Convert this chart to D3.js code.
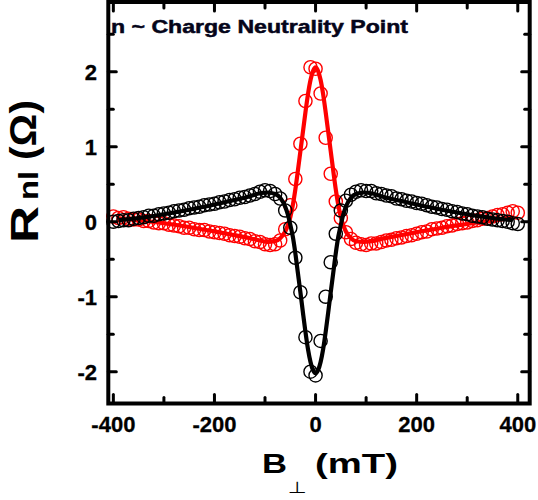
<!DOCTYPE html>
<html><head><meta charset="utf-8">
<script src="https://cdn.jsdelivr.net/npm/d3@7"></script>
<style>body{margin:0;background:#fff}svg{display:block}</style>
</head><body>
<script>
// ---- data ----
const field = [-400,-390,-380,-370,-360,-350,-340,-330,-320,-310,-300,-290,-280,-270,-260,-250,-240,-230,-220,-210,-200,-190,-180,-170,-160,-150,-140,-130,-120,-110,-100,-90,-80,-70,-60,-50,-40,-30,-20,-10,0,10,20,30,40,50,60,70,80,90,100,110,120,130,140,150,160,170,180,190,200,210,220,230,240,250,260,270,280,290,300,310,320,330,340,350,360,370,380,390,400];
const redR = [0.07,0.05,0.06,0.04,0.03,0.03,0.01,0.01,-0.01,-0.02,-0.02,-0.04,-0.05,-0.06,-0.08,-0.08,-0.10,-0.11,-0.11,-0.13,-0.14,-0.15,-0.16,-0.18,-0.19,-0.20,-0.22,-0.23,-0.26,-0.27,-0.30,-0.31,-0.30,-0.25,-0.10,0.22,0.57,1.04,1.61,2.06,2.04,1.71,1.12,0.64,0.27,0.05,-0.14,-0.23,-0.28,-0.30,-0.31,-0.29,-0.29,-0.27,-0.25,-0.24,-0.22,-0.21,-0.19,-0.18,-0.16,-0.14,-0.13,-0.10,-0.09,-0.08,-0.06,-0.05,-0.03,-0.02,-0.01,0.01,0.02,0.04,0.05,0.07,0.09,0.10,0.12,0.14,0.12];
const blackR = [0.00,0.01,0.02,0.02,0.04,0.05,0.06,0.08,0.08,0.10,0.11,0.12,0.14,0.15,0.16,0.18,0.19,0.20,0.22,0.23,0.24,0.26,0.27,0.29,0.30,0.32,0.33,0.35,0.37,0.40,0.42,0.41,0.37,0.31,0.15,-0.08,-0.48,-0.94,-1.54,-2.00,-2.05,-1.59,-1.00,-0.54,-0.16,0.15,0.28,0.36,0.40,0.42,0.41,0.41,0.38,0.37,0.35,0.34,0.31,0.30,0.28,0.27,0.25,0.24,0.22,0.20,0.19,0.17,0.16,0.14,0.13,0.11,0.10,0.08,0.07,0.06,0.04,0.03,0.02,0.01,0.00,-0.02,-0.03];
const fitField = [-390,-350,-300,-250,-200,-160,-130,-110,-95,-80,-70,-60,-55,-50,-45,-40,-35,-30,-25,-20,-15,-10,-5,0,5,10,15,20,25,30,35,40,45,50,55,60,70,80,95,110,130,160,200,250,300,350,390];
const redFit = [0.04,0.02,-0.02,-0.07,-0.13,-0.18,-0.22,-0.25,-0.27,-0.26,-0.22,-0.13,-0.05,0.06,0.22,0.43,0.68,0.94,1.20,1.46,1.70,1.89,2.01,2.06,2.01,1.89,1.70,1.46,1.20,0.94,0.68,0.43,0.22,0.06,-0.05,-0.13,-0.22,-0.26,-0.27,-0.26,-0.23,-0.19,-0.14,-0.08,-0.03,0.02,0.06];
const blackFit = [0.02,0.05,0.10,0.16,0.23,0.29,0.34,0.38,0.39,0.37,0.32,0.20,0.10,-0.04,-0.20,-0.42,-0.68,-0.94,-1.21,-1.47,-1.70,-1.87,-1.98,-2.02,-1.98,-1.87,-1.70,-1.47,-1.21,-0.94,-0.68,-0.42,-0.20,-0.04,0.10,0.20,0.32,0.37,0.39,0.38,0.34,0.29,0.23,0.16,0.10,0.05,0.02];
const xTicks = [-400,-200,0,200,400];
const xMinor = [-300,-100,100,300];
const yTicks = [-2,-1,0,1,2];
const yMinor = [-1.5,-0.5,0.5,1.5,2.5];
const title = "n ~ Charge Neutrality Point";

// ---- layout ----
const W = 538, H = 500;
const L = 108.3, R = 529.7, T = 2, B = 403.5;
const x = d3.scaleLinear().domain([-410, 423.6]).range([L, R]);
const y = d3.scaleLinear().domain([-2.424, 2.93]).range([B, T]);

const svg = d3.select("body").append("svg").attr("width", W).attr("height", H);
const font = "'Liberation Sans', Arial, sans-serif";

// data
function series(vals, color) {
  svg.append("g").selectAll("circle").data(field).join("circle")
    .attr("cx", d => x(d)).attr("cy", (d, i) => y(vals[i])).attr("r", 6.6)
    .attr("fill", "none").attr("stroke", color).attr("stroke-width", 1.4);
}
function fit(vals, color) {
  const line = d3.line().x(d => x(d)).y((d, i) => y(vals[i])).curve(d3.curveMonotoneX);
  svg.append("path").datum(fitField).attr("d", line).attr("fill", "none")
    .attr("stroke", color).attr("stroke-width", 4.2).attr("stroke-linejoin", "round");
}
series(redR, "#ff0000");
fit(redFit, "#ff0000");
series(blackR, "#000");
fit(blackFit, "#000");

// ticks (inward) on all four sides
const tk = svg.append("g").attr("stroke", "#000").attr("stroke-width", 3).attr("stroke-linecap", "round");
function xt(vals, len) {
  vals.forEach(v => {
    tk.append("line").attr("x1", x(v)).attr("x2", x(v)).attr("y1", B).attr("y2", B - len);
    tk.append("line").attr("x1", x(v)).attr("x2", x(v)).attr("y1", T).attr("y2", T + len);
  });
}
function yt(vals, len) {
  vals.forEach(v => {
    tk.append("line").attr("y1", y(v)).attr("y2", y(v)).attr("x1", L).attr("x2", L + len);
    tk.append("line").attr("y1", y(v)).attr("y2", y(v)).attr("x1", R).attr("x2", R - len);
  });
}
xt(xTicks, 9); xt(xMinor, 6); yt(yTicks, 8); yt(yMinor, 5);

// frame
svg.append("rect").attr("x", L).attr("y", T).attr("width", R - L).attr("height", B - T)
  .attr("fill", "none").attr("stroke", "#000").attr("stroke-width", 4);

// tick labels
svg.append("g").selectAll("text").data(xTicks).join("text")
  .attr("x", d => x(d)).attr("y", 432).attr("text-anchor", "middle")
  .attr("font-family", font).attr("font-weight", "bold").attr("font-size", 22)
  .attr("stroke", "#000").attr("stroke-width", 0.3)
  .text(d => d);
svg.append("g").selectAll("text").data(yTicks).join("text")
  .attr("x", 97).attr("y", d => y(d) + 8).attr("text-anchor", "end")
  .attr("font-family", font).attr("font-weight", "bold").attr("font-size", 22)
  .attr("stroke", "#000").attr("stroke-width", 0.3)
  .text(d => d);

// title inside
svg.append("text").attr("x", 111).attr("y", 33)
  .attr("font-family", font).attr("font-weight", "bold").attr("font-size", 19)
  .attr("textLength", 297).attr("lengthAdjust", "spacingAndGlyphs").attr("fill", "#05051a")
  .attr("stroke", "#05051a").attr("stroke-width", 0.5)
  .text(title);

// x axis title: B⊥ (mT)
svg.append("text").attr("x", 262).attr("y", 473)
  .attr("font-family", font).attr("font-weight", "bold").attr("font-size", 28)
  .attr("textLength", 25).attr("lengthAdjust", "spacingAndGlyphs").text("B");
svg.append("text").attr("x", 288).attr("y", 493)
  .attr("font-family", "'DejaVu Sans', sans-serif").attr("font-size", 16)
  .attr("textLength", 19).attr("lengthAdjust", "spacingAndGlyphs").text("⊥");
svg.append("text").attr("x", 315).attr("y", 473)
  .attr("font-family", font).attr("font-weight", "bold").attr("font-size", 28)
  .attr("textLength", 83).attr("lengthAdjust", "spacingAndGlyphs").text("(mT)");

// y axis title: Rnl (Ω)
function ytext(str, yStart, len, size, bx) {
  svg.append("text").attr("transform", `translate(${bx},${yStart}) rotate(-90)`)
    .attr("font-family", font).attr("font-weight", "bold").attr("font-size", size)
    .attr("textLength", len).attr("lengthAdjust", "spacingAndGlyphs").text(str);
}
ytext("R", 243, 37, 38, 38);
ytext("nl", 200, 29, 28, 38);
ytext("(Ω)", 160, 60, 37, 36);
</script>
</body></html>
